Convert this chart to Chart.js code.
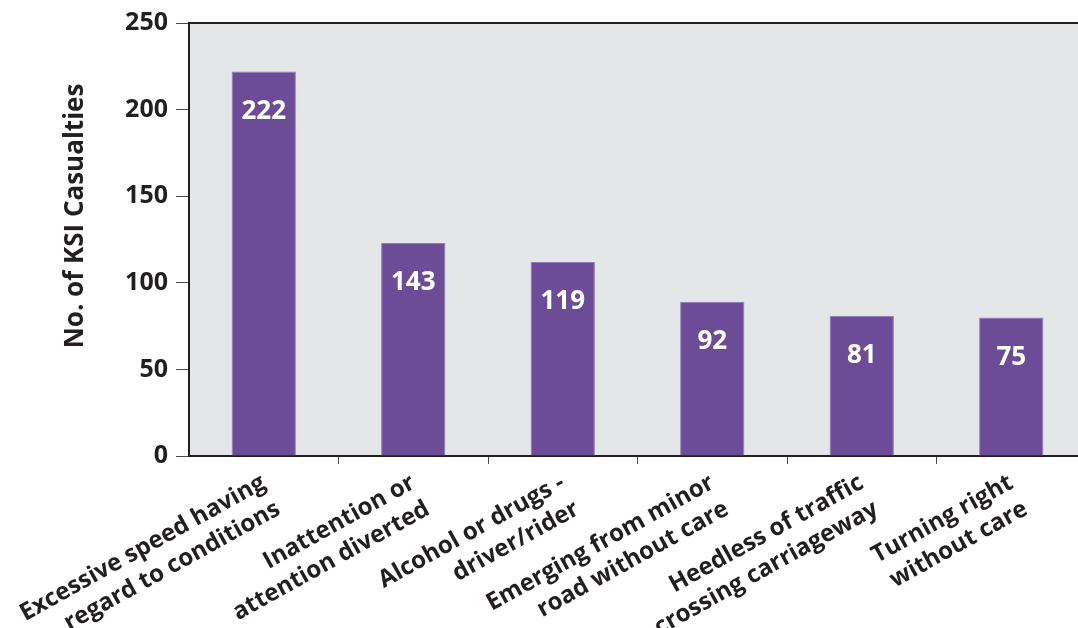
<!DOCTYPE html>
<html>
<head>
<meta charset="utf-8">
<script src="https://cdn.jsdelivr.net/npm/chart.js@4/dist/chart.umd.min.js"></script>
<style>
    html, body { margin: 0; padding: 0; background: #fff; overflow: hidden; }
    #wrap { width: 1100px; height: 628px; }
</style>
</head>
<body>
<div id="wrap"><canvas id="ksiChart" width="1100" height="628"></canvas></div>
<script>
// Contributory factors (categories), drawn bar heights and printed labels
const categories = [
    ['Excessive speed having', 'regard to conditions'],
    ['Inattention or', 'attention diverted'],
    ['Alcohol or drugs -', 'driver/rider'],
    ['Emerging from minor', 'road without care'],
    ['Heedless of traffic', 'crossing carriageway'],
    ['Turning right', 'without care']
];
const barValues = [222, 123, 112, 89, 81, 80];
const valueLabels = ['222', '143', '119', '92', '81', '75'];
const yTicks = [0, 50, 100, 150, 200, 250];

const yTitle = 'No. of KSI Casualties';
const textColor = '#231f20';
const barColor = '#6d4c97';
const plotBg = '#e5e6e8';

// grey panel behind the bars + top border line + y title
const plotArea = {
    id: 'plotArea',
    beforeDraw(chart) {
        const { ctx, chartArea: a } = chart;
        ctx.save();
        ctx.fillStyle = plotBg;
        ctx.fillRect(a.left, a.top, a.right - a.left, a.bottom - a.top);
        ctx.restore();
    },
    afterDraw(chart) {
        const { ctx, chartArea: a } = chart;
        ctx.save();
        ctx.strokeStyle = textColor;
        ctx.lineWidth = 2;
        ctx.beginPath();
        ctx.moveTo(a.left - 1, a.top);
        ctx.lineTo(a.right + 20, a.top);
        ctx.stroke();
        // rotated y axis title
        ctx.translate(76, 216);
        ctx.rotate(-Math.PI / 2);
        ctx.fillStyle = textColor;
        ctx.font = 'bold 26px "Open Sans"';
        ctx.textAlign = 'center';
        ctx.textBaseline = 'middle';
        ctx.fillText(yTitle, 0, 0);
        ctx.restore();
    }
};

// white numbers inside the bars
const barLabels = {
    id: 'barLabels',
    afterDatasetsDraw(chart) {
        const { ctx } = chart;
        const meta = chart.getDatasetMeta(0);
        ctx.save();
        ctx.fillStyle = '#ffffff';
        ctx.font = 'bold 26px "Open Sans"';
        ctx.textAlign = 'center';
        ctx.textBaseline = 'middle';
        meta.data.forEach((bar, i) => {
            ctx.fillText(valueLabels[i], bar.x, bar.y + 40);
        });
        ctx.restore();
    }
};

new Chart(document.getElementById('ksiChart').getContext('2d'), {
    type: 'bar',
    data: {
        labels: categories,
        datasets: [{
            data: barValues,
            backgroundColor: barColor,
            borderColor: '#8f7bb6',
            borderWidth: 1,
            borderSkipped: 'bottom',
            barPercentage: 0.43,
            categoryPercentage: 1.0
        }]
    },
    options: {
        responsive: false,
        animation: false,
        layout: {
            padding: { left: 0, right: 14, top: 23, bottom: 0 }
        },
        plugins: {
            legend: { display: false },
            tooltip: { enabled: false }
        },
        scales: {
            x: {
                grid: {
                    offset: true,
                    drawOnChartArea: false,
                    drawTicks: true,
                    tickLength: 8,
                    color: ctx => ctx.index === 0 ? 'rgba(0,0,0,0)' : '#4a4a4a',
                    lineWidth: 1
                },
                border: { display: true, color: textColor, width: 2 },
                ticks: {
                    autoSkip: false,
                    minRotation: 29,
                    maxRotation: 29,
                    padding: 4,
                    color: textColor,
                    font: { family: 'Open Sans', size: 24, weight: 'bold', lineHeight: 1.25 }
                },
                afterFit(scale) { scale.height = 172; }
            },
            y: {
                min: 0,
                max: 250,
                afterBuildTicks(scale) {
                    scale.ticks = yTicks.map(v => ({ value: v }));
                },
                grid: {
                    drawOnChartArea: false,
                    drawTicks: true,
                    tickLength: 13,
                    color: '#4a4a4a',
                    lineWidth: 1
                },
                border: { display: true, color: textColor, width: 2 },
                ticks: {
                    padding: 8,
                    color: textColor,
                    font: { family: 'Open Sans', size: 25, weight: 'bold' }
                },
                afterFit(scale) { scale.width = 189; }
            }
        }
    },
    plugins: [plotArea, barLabels]
});
</script>
</body>
</html>
